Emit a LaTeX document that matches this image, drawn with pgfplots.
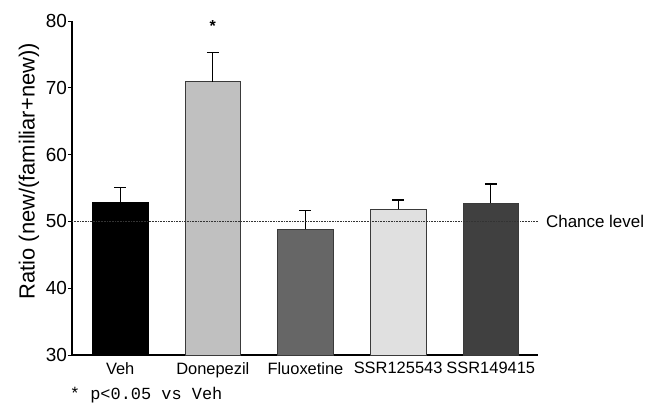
\documentclass[border=0pt]{standalone}
\usepackage{fontspec}
\setmainfont{Liberation Sans}
\newfontfamily\monofont{Liberation Mono}
\usepackage{pgfplots}
\pgfplotsset{compat=1.18}

\definecolor{cDon}{HTML}{C0C0C0}
\definecolor{cFlu}{HTML}{666666}
\definecolor{cSSRa}{HTML}{E0E0E0}
\definecolor{cSSRb}{HTML}{404040}
\definecolor{edge}{HTML}{3A3A3A}

\begin{document}
\begin{tikzpicture}
\useasboundingbox (-72bp,-51bp) rectangle (587bp,355bp);
\begin{axis}[
  scale only axis,
  width=466bp, height=334bp,
  ybar, bar width=0.6, bar shift=0pt,
  xmin=-0.52, xmax=4.51,
  ymin=30, ymax=80,
  ytick={30,40,...,80},
  xtick={0,1,2,3,4},
  xticklabels={Veh,Donepezil,Fluoxetine,SSR125543,SSR149415},
  axis lines=left,
  axis line style={-, line width=1.2pt},
  x tick style={draw=none},
  y tick style={line width=1pt, black},
  tick align=outside,
  major tick length=4bp,
  /pgf/number format/assume math mode=true,
  yticklabel style={font=\fontsize{19}{21}\selectfont, xshift=2.5bp},
  xticklabel style={font=\fontsize{16.5}{19}\selectfont},
  ylabel={Ratio (new/(familiar+new))},
  ylabel style={font=\fontsize{22}{25}\selectfont, at={(ticklabel cs:0.55)}, yshift=0bp},
  clip=false,
  error bars/y dir=plus,
  error bars/y explicit,
  error bars/error bar style={line width=1.2pt, black},
  error bars/error mark options={rotate=90, mark size=6bp, line width=1.2pt, black},
]
\addplot[fill=black, draw=black, line width=0.8pt] coordinates {(0,52.9) +- (0,2.2)};
\addplot[fill=cDon, draw=edge, line width=0.8pt] coordinates {(1,70.9) +- (0,4.4)};
\addplot[fill=cFlu, draw=edge, line width=0.8pt] coordinates {(2,48.8) +- (0,2.8)};
\addplot[fill=cSSRa, draw=edge, line width=0.8pt] coordinates {(3,51.8) +- (0,1.4)};
\addplot[fill=cSSRb, draw=edge, line width=0.8pt] coordinates {(4,52.7) +- (0,2.9)};
\addplot[sharp plot, densely dotted, line width=0.6pt, black!80, no markers] coordinates {(-0.52,50) (4.51,50)};
\node[anchor=west, font=\fontsize{17}{19}\selectfont] at (axis cs:4.56,50) {Chance level};
\node[font=\bfseries\fontsize{16}{18}\selectfont] at (axis cs:1,79.3) {*};
\node[anchor=base west, font=\monofont\fontsize{17}{19}\selectfont] at (axis cs:-0.58,23.4) {* p<0.05 vs Veh};
\end{axis}
\end{tikzpicture}
\end{document}
